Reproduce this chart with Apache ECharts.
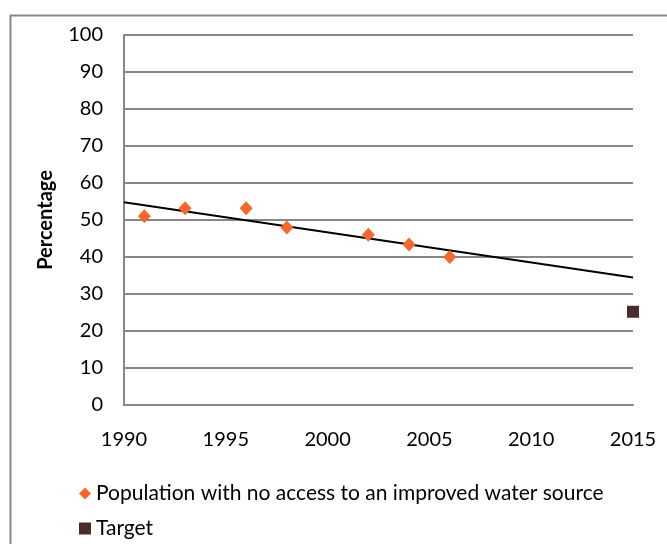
<!DOCTYPE html>
<html>
<head>
<meta charset="utf-8">
<script src="https://cdn.jsdelivr.net/npm/echarts@6/dist/echarts.min.js"></script>
<style>html,body{margin:0;padding:0;background:#fff;}#c{width:667px;height:544px;}</style>
</head>
<body>
<div id="c"></div>
<script>
const years = [1991, 1993, 1996, 1998, 2002, 2004, 2006];
const noAccess = [51, 53.2, 53.2, 48, 46, 43.4, 40];
const targetYear = [2015];
const targetValue = [25.2];
const xTicks = [1990, 1995, 2000, 2005, 2010, 2015];
const yTicks = [0, 10, 20, 30, 40, 50, 60, 70, 80, 90, 100];

// linear trend (least squares) of the observed series
const n = years.length;
const mx = years.reduce((a, b) => a + b, 0) / n;
const my = noAccess.reduce((a, b) => a + b, 0) / n;
let sxy = 0, sxx = 0;
for (let i = 0; i < n; i++) { sxy += (years[i] - mx) * (noAccess[i] - my); sxx += (years[i] - mx) ** 2; }
const slope = sxy / sxx;
const x0 = xTicks[0], x1 = xTicks[xTicks.length - 1];
const trend = [[x0, my + slope * (x0 - mx)], [x1, my + slope * (x1 - mx)]];

const font = 'Lato, "Open Sans", sans-serif';
const grey = '#878787';
const chart = echarts.init(document.getElementById('c'), null, {renderer: 'canvas'});
chart.setOption({
  animation: false,
  backgroundColor: '#fff',
  graphic: [{
    type: 'rect', left: 8, top: 13, z: -1,
    shape: {width: 700, height: 600},
    style: {fill: 'none', stroke: grey, lineWidth: 2}
  }],
  grid: {left: 124, right: 34, top: 35, bottom: 139, containLabel: false},
  xAxis: {
    type: 'value', min: x0, max: x1, interval: 5,
    axisLine: {show: true, lineStyle: {color: grey, width: 2}},
    axisTick: {show: false},
    splitLine: {show: false},
    axisLabel: {color: '#000', fontFamily: font, fontSize: 20, margin: 25,
      formatter: v => String(v)}
  },
  yAxis: {
    type: 'value', min: yTicks[0], max: yTicks[yTicks.length - 1], interval: 10,
    name: 'Percentage', nameLocation: 'middle', nameGap: 68, nameRotate: 90,
    nameTextStyle: {color: '#000', fontFamily: font, fontSize: 20, fontWeight: 'bold'},
    axisLine: {show: true, lineStyle: {color: grey, width: 2}},
    axisTick: {show: false},
    splitLine: {show: true, lineStyle: {color: grey, width: 2}},
    axisLabel: {color: '#000', fontFamily: font, fontSize: 20, margin: 21}
  },
  legend: {
    orient: 'vertical', left: 79, top: 483, itemGap: 14, padding: 0,
    itemWidth: 12, itemHeight: 12,
    textStyle: {color: '#000', fontFamily: font, fontSize: 21},
    data: [
      {name: 'Population with no access to an improved water source', icon: 'diamond'},
      {name: 'Target', icon: 'rect'}
    ]
  },
  series: [
    {
      name: 'Trend', type: 'line', data: trend, symbol: 'none',
      lineStyle: {color: '#000', width: 2}, z: 2, silent: true
    },
    {
      name: 'Population with no access to an improved water source', type: 'scatter',
      data: years.map((y, i) => [y, noAccess[i]]),
      symbol: 'diamond', symbolSize: [13, 14],
      itemStyle: {color: '#f6672d', opacity: 1}, z: 3
    },
    {
      name: 'Target', type: 'scatter',
      data: targetYear.map((y, i) => [y, targetValue[i]]),
      symbol: 'rect', symbolSize: 12,
      itemStyle: {color: '#4b2b2b', opacity: 1}, z: 3
    }
  ]
});
</script>
</body>
</html>
